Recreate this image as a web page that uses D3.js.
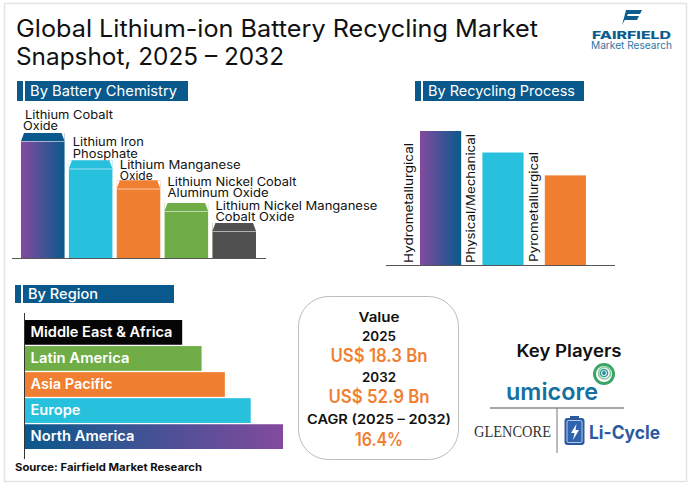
<!DOCTYPE html>
<html>
<head>
<meta charset="utf-8">
<script src="https://cdnjs.cloudflare.com/ajax/libs/d3/7.8.5/d3.min.js"></script>
<style>
html, body { margin: 0; padding: 0; background: #fff; }
svg { display: block; }
text { font-family: Inter, "Noto Sans", sans-serif; }
</style>
</head>
<body>
<svg id="chart" width="691" height="485"></svg>
<script>
// Data (no axis in the original, so values are relative to the tallest bar)
var chemistry = ["Lithium Cobalt Oxide", "Lithium Iron Phosphate", "Lithium Manganese Oxide", "Lithium Nickel Cobalt Aluminum Oxide", "Lithium Nickel Manganese Cobalt Oxide"];
var chemistryValues = [100, 78, 62, 44, 28];
var chemistryLines = [["Lithium Cobalt", "Oxide"], ["Lithium Iron", "Phosphate"], ["Lithium Manganese", "Oxide"], ["Lithium Nickel Cobalt", "Aluminum Oxide"], ["Lithium Nickel Manganese", "Cobalt Oxide"]];
var process = ["Hydrometallurgical", "Physical/Mechanical", "Pyrometallurgical"];
var processValues = [100, 84, 67];
var regions = ["Middle East & Africa", "Latin America", "Asia Pacific", "Europe", "North America"];
var regionValues = [61, 68.5, 77.5, 87.5, 100];

var blue = "#09598c", cyan = "#27c0dd", orange = "#f07f32", green = "#70ad47", grey = "#505050";
var chemistryColors = ["url(#purpleBlue)", cyan, orange, green, grey];
var chemistryCaps = [blue, cyan, orange, green, grey];
var processColors = ["url(#purpleBlue)", cyan, orange];
var regionColors = ["#050505", green, orange, cyan, "url(#bluePurple)"];

var svg = d3.select("#chart");

var defs = svg.append("defs");
function gradient(id, from, to) {
    var g = defs.append("linearGradient").attr("id", id);
    g.append("stop").attr("offset", "0%").attr("stop-color", from);
    g.append("stop").attr("offset", "100%").attr("stop-color", to);
}
gradient("purpleBlue", "#834a9e", blue);
gradient("bluePurple", blue, "#834a9e");

// frame
svg.append("rect").attr("x", 4.5).attr("y", 3.5).attr("width", 682).attr("height", 478)
    .attr("fill", "#fff").attr("stroke", "#e4e4e4").attr("stroke-width", 1.5);

function label(text, x, y, size, opts) {
    opts = opts || {};
    var t = svg.append("text").attr("x", x).attr("y", y).text(text)
        .attr("font-size", size)
        .attr("font-weight", opts.weight || 400)
        .attr("fill", opts.fill || "#111")
        .attr("text-anchor", opts.anchor || "start");
    if (opts.width) t.attr("textLength", opts.width).attr("lengthAdjust", "spacingAndGlyphs");
    if (opts.family) t.style("font-family", opts.family);
    return t;
}

// title
label("Global Lithium-ion Battery Recycling Market", 16, 37, 24, {width: 522});
label("Snapshot, 2025 \u2013 2032", 16, 65, 24, {width: 268});

// section headers
function header(text, x, y, w, h, size, weight, tw) {
    svg.append("rect").attr("x", x).attr("y", y).attr("width", 6).attr("height", h).attr("fill", blue);
    svg.append("rect").attr("x", x + 8).attr("y", y).attr("width", w - 8).attr("height", h).attr("fill", blue);
    label(text, x + 13, y + h / 2 + size * 0.36, size, {fill: "#fff", weight: weight, width: tw});
}
header("By Battery Chemistry", 17, 81, 171, 20, 14.5, 400, 147);
header("By Recycling Process", 415, 81, 169, 20, 14.5, 400, 147);
header("By Region", 15, 285, 159, 18, 14.5, 500, 70);

// By Battery Chemistry
var xChem = d3.scaleBand().domain(chemistry).range([21, 256]).paddingInner(0.09);
var yChem = d3.scaleLinear().domain([0, 100]).range([258, 133]);
var capH = 8, chamfer = 3;

var chemG = svg.append("g").selectAll("g").data(chemistry).join("g");
chemG.append("rect")
    .attr("x", function (d) { return xChem(d); })
    .attr("y", function (d, i) { return yChem(chemistryValues[i]); })
    .attr("width", xChem.bandwidth())
    .attr("height", function (d, i) { return yChem(0) - yChem(chemistryValues[i]); })
    .attr("fill", function (d, i) { return chemistryColors[i]; });
// chamfered cap on top of each bar, white wedges hide the bar corners
chemG.append("path")
    .attr("d", function (d, i) {
        var x0 = xChem(d), x1 = x0 + xChem.bandwidth(), t = yChem(chemistryValues[i]);
        return "M" + x0 + "," + (t + capH) + "L" + (x0 + chamfer) + "," + t + "L" + (x1 - chamfer) + "," + t + "L" + x1 + "," + (t + capH) + "Z";
    })
    .attr("fill", function (d, i) { return chemistryCaps[i]; });
chemG.append("path")
    .attr("d", function (d, i) {
        var x0 = xChem(d), x1 = x0 + xChem.bandwidth(), t = yChem(chemistryValues[i]);
        return "M" + x0 + "," + t + "L" + (x0 + chamfer) + "," + t + "L" + x0 + "," + (t + capH) + "Z" +
            "M" + x1 + "," + t + "L" + (x1 - chamfer) + "," + t + "L" + x1 + "," + (t + capH) + "Z";
    })
    .attr("fill", "#fff");
chemG.append("line")
    .attr("x1", function (d) { return xChem(d); })
    .attr("x2", function (d) { return xChem(d) + xChem.bandwidth(); })
    .attr("y1", function (d, i) { return yChem(chemistryValues[i]) + capH + 0.5; })
    .attr("y2", function (d, i) { return yChem(chemistryValues[i]) + capH + 0.5; })
    .attr("stroke", "#fff").attr("stroke-opacity", 0.55);

svg.append("line").attr("x1", 12).attr("x2", 266).attr("y1", 258.5).attr("y2", 258.5)
    .attr("stroke", "#555").attr("stroke-width", 1.2);

// two line labels kept in one text element, nudged to sit as in the reference
var chemLabelDy = [[-14, -3], [-15, -3], [-12, -1], [-17, -6], [-13, -2]];
var chemLabelDx = [[4, 2], [4, 4], [3, 3], [3, 3], [3, 3]];
var chemLabelW = [[88, 35], [71, 65], [121, 33], [129, 101], [162, 79]];
chemistry.forEach(function (d, i) {
    var t = yChem(chemistryValues[i]);
    var txt = svg.append("text").attr("font-size", 11.5).attr("fill", "#111");
    chemistryLines[i].forEach(function (line, j) {
        txt.append("tspan")
            .attr("x", xChem(d) + chemLabelDx[i][j])
            .attr("y", t + chemLabelDy[i][j])
            .attr("textLength", chemLabelW[i][j])
            .attr("lengthAdjust", "spacingAndGlyphs")
            .text(line);
    });
});

// By Recycling Process
var xProc = d3.scaleBand().domain(process).range([420, 586]).paddingInner(0.34);
var yProc = d3.scaleLinear().domain([0, 100]).range([265.5, 131]);

svg.append("g").selectAll("rect").data(process).join("rect")
    .attr("x", function (d) { return xProc(d); })
    .attr("y", function (d, i) { return yProc(processValues[i]); })
    .attr("width", xProc.bandwidth())
    .attr("height", function (d, i) { return yProc(0) - yProc(processValues[i]); })
    .attr("fill", function (d, i) { return processColors[i]; });

svg.append("line").attr("x1", 386).attr("x2", 615).attr("y1", 265.5).attr("y2", 265.5)
    .attr("stroke", "#555").attr("stroke-width", 1.2);

var procLabelDx = [-7, -7, -7];
var procLabelBottom = [263, 263, 262];
var procLabelW = [120, 129, 110];
process.forEach(function (d, i) {
    var x = xProc(d) + procLabelDx[i];
    label(d, 0, 0, 11.5, {width: procLabelW[i]})
        .attr("transform", "translate(" + x + "," + procLabelBottom[i] + ") rotate(-90)");
});

// By Region
var yReg = d3.scaleBand().domain(regions).range([320, 449]).paddingInner(0.05);
var xReg = d3.scaleLinear().domain([0, 100]).range([24.5, 283]);

svg.append("g").selectAll("rect").data(regions).join("rect")
    .attr("x", xReg(0))
    .attr("y", function (d) { return yReg(d); })
    .attr("width", function (d, i) { return xReg(regionValues[i]) - xReg(0); })
    .attr("height", yReg.bandwidth())
    .attr("fill", function (d, i) { return regionColors[i]; });

svg.append("line").attr("x1", 24.5).attr("x2", 24.5).attr("y1", 313).attr("y2", 459)
    .attr("stroke", "#333").attr("stroke-width", 1);

var regLabelW = [142, 99, 82, 50, 104];
regions.forEach(function (d, i) {
    label(d, 30.5, yReg(d) + yReg.bandwidth() / 2 + 4.5, 14, {fill: "#fff", weight: 600, width: regLabelW[i]});
});

label("Source: Fairfield Market Research", 15, 471, 10.5, {weight: 700, width: 187});

// value box
svg.append("rect").attr("x", 298.5).attr("y", 296.5).attr("width", 160).attr("height", 163).attr("rx", 30)
    .attr("fill", "#fff").attr("stroke", "#bdbdbd");
var boxX = 379;
label("Value", boxX, 322, 13, {weight: 600, anchor: "middle", width: 41});
label("2025", boxX, 341, 13, {weight: 600, anchor: "middle", width: 34});
label("US$ 18.3 Bn", boxX, 362, 18, {weight: 600, fill: orange, anchor: "middle", width: 97});
label("2032", boxX, 382, 13, {weight: 600, anchor: "middle", width: 34});
label("US$ 52.9 Bn", boxX, 403, 18, {weight: 600, fill: orange, anchor: "middle", width: 101});
label("CAGR (2025 \u2013 2032)", boxX, 424, 13, {weight: 600, anchor: "middle", width: 144});
label("16.4%", boxX, 446, 18, {weight: 600, fill: orange, anchor: "middle", width: 48});

// key players
label("Key Players", 569, 357, 17, {weight: 600, anchor: "middle", width: 105});
label("umicore", 506, 399.5, 24, {weight: 600, fill: "#14709f", width: 92});
var swirl = svg.append("g").attr("fill", "none");
[[9.5, 604, 374, "#3aa566", 3], [6, 604.5, 373, "#8cc8a0", 1.6], [3.6, 604, 373, "#2a9d8f", 1.5], [1.2, 604, 373, "#17759f", 1.4]].forEach(function (c) {
    swirl.append("circle").attr("cx", c[1]).attr("cy", c[2]).attr("r", c[0]).attr("stroke", c[3]).attr("stroke-width", c[4]);
});
svg.append("line").attr("x1", 490).attr("x2", 624).attr("y1", 408).attr("y2", 408).attr("stroke", "#8a8a8a").attr("stroke-width", 1.5);
svg.append("line").attr("x1", 557).attr("x2", 557).attr("y1", 408).attr("y2", 453).attr("stroke", "#777").attr("stroke-width", 1);
label("GLENCORE", 474, 437, 17.5, {fill: "#333", width: 77, family: '"Liberation Serif", serif'});

// Li-Cycle battery icon
svg.append("rect").attr("x", 564.5).attr("y", 418).attr("width", 20).attr("height", 27).attr("rx", 3).attr("fill", "#2c5aa0");
svg.append("rect").attr("x", 567).attr("y", 420.5).attr("width", 15).attr("height", 22).attr("rx", 1.5)
    .attr("fill", "#2f63ad").attr("stroke", "#dbe6f5").attr("stroke-width", 0.8);
svg.append("rect").attr("x", 570).attr("y", 416).attr("width", 9).attr("height", 2.5).attr("fill", "#2c5aa0");
svg.append("path").attr("d", "M576.5,424L571,433L574.5,433L573,440L579,430L575.5,430Z").attr("fill", "#fff");
label("Li-Cycle", 589, 438.5, 18.5, {weight: 700, fill: "#2c5aa0", width: 71});

// Fairfield logo
svg.append("path").attr("d", "M626,10H642L640,14H628L622,25L625,14Z").attr("fill", "#0c5c8e");
svg.append("path").attr("d", "M626,16H639L637,20H624.5Z").attr("fill", "#0c5c8e");
label("FAIRFIELD", 592, 38.5, 10.5, {weight: 800, fill: "#0c5c8e", width: 79});
label("Market Research", 591, 49, 10, {fill: "#2f75a3", width: 81});
</script>
</body>
</html>
